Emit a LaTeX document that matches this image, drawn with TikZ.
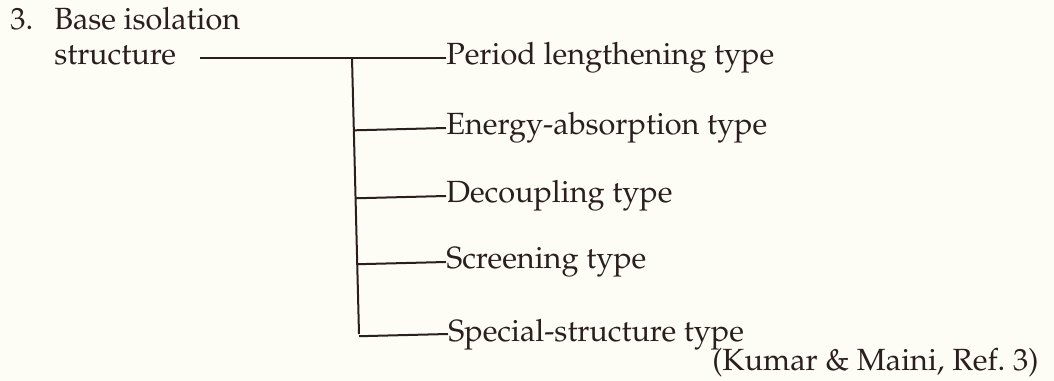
\documentclass[tikz,border=0pt]{standalone}
\usepackage[T1]{fontenc}
\usepackage{mathpazo}
\usepackage{xcolor}
\usetikzlibrary{calc}

\definecolor{ink}{HTML}{2B1E1E}
\definecolor{paper}{HTML}{FDFDF6}

\begin{document}
\begin{tikzpicture}[x=0.75pt,y=-0.75pt,
    every node/.style={font=\fontsize{23}{27}\selectfont,text=ink},
    lbl/.style={anchor=west,inner sep=0pt,text height=10.5pt,text depth=0pt},
    wire/.style={draw=ink,line width=1.5pt}]
            \fill[paper] (0,0) rectangle (1054,381);
            \useasboundingbox (0,0) rectangle (1054,381);

            \node (n) at (10,30) [anchor=base west,inner sep=0pt] {3.};
            \node (t) at (54,30) [anchor=base west,inner sep=0pt] {Base isolation};
            \node (r) at (54,58) [lbl] {structure};

            \node (a) at (446,58) [lbl] {Period lengthening type};
            \node (b) at (446,128) [lbl] {Energy-absorption type};
            \node (c) at (446,196) [lbl] {Decoupling type};
            \node (d) at (446,262) [lbl] {Screening type};
            \node (e) at (448,334) [lbl] {Special-structure type};

            \node (f) at (712,370) [anchor=base west,inner sep=0pt] {(Kumar \& Maini, Ref.~3)};

            \coordinate (j) at (352,58);
            \coordinate (k) at (359,334);

            \draw[wire,shorten <=18pt] (r.east) -- (a.west);
            \draw[wire] (j) -- (k);
            \draw[wire] ($(j)!(b.west)!(k)$) -- (b.west) ($(j)!(c.west)!(k)$) -- (c.west) ($(j)!(d.west)!(k)$) -- (d.west) ($(j)!(e.west)!(k)$) -- (e.west);
        \end{tikzpicture}
\end{document}
